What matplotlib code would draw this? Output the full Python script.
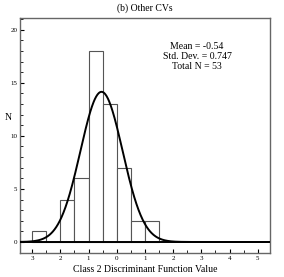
import numpy as np
import matplotlib.pyplot as plt
from matplotlib.ticker import MultipleLocator

# histogram counts, bins of width 0.5
bin_left = [-3.0, -2.5, -2.0, -1.5, -1.0, -0.5, 0.0, 0.5, 1.0]
counts = [1, 0, 4, 6, 18, 13, 7, 2, 2]
bin_width = 0.5

mean = -0.54
std = 0.747
total_n = 53

xticks = [-3, -2, -1, 0, 1, 2, 3, 4, 5]
xtick_labels = ['3', '2', '1', '0', '1', '2', '3', '4', '5']
yticks = [0, 5, 10, 15, 20]

plt.rcParams['font.family'] = ['Liberation Serif', 'DejaVu Serif']

fig = plt.figure(figsize=(2.84, 2.77), dpi=100)
ax = fig.add_axes([0.0704, 0.0866, 0.880, 0.848])

ax.bar(bin_left, counts, width=bin_width, align='edge', facecolor='white',
       edgecolor='#555555', linewidth=0.8, zorder=2)

xs = np.linspace(-3.45, 5.45, 600)
pdf = total_n * bin_width / (std * np.sqrt(2 * np.pi)) * np.exp(-0.5 * ((xs - mean) / std) ** 2)
ax.plot(xs, pdf, color='black', linewidth=1.4, zorder=3)
ax.axhline(0, color='black', linewidth=1.4, zorder=3)

ax.set_xlim(-3.43, 5.43)
ax.set_ylim(-1.04, 21.1)

ax.set_xticks(xticks)
ax.set_xticklabels(xtick_labels)
ax.set_yticks(yticks)
ax.xaxis.set_minor_locator(MultipleLocator(0.5))
ax.yaxis.set_minor_locator(MultipleLocator(1))
ax.tick_params(which='both', direction='in', labelsize=5, pad=2, color='black')
ax.tick_params(which='major', length=3, width=0.8)
ax.tick_params(which='minor', length=2, width=0.6)
ax.tick_params(axis='x', which='both', top=False)
ax.tick_params(axis='y', which='both', right=False)

for s in ax.spines.values():
    s.set_color('#666666')
    s.set_linewidth(1.0)

ax.set_title('(b) Other CVs', fontsize=7, pad=5)
ax.set_xlabel('Class 2 Discriminant Function Value', fontsize=7, labelpad=3)
fig.text(8 / 284, 1 - 117 / 277, 'N', fontsize=7, ha='center', va='center')

ax.text(2.85, 17.5, 'Mean = -0.54\nStd. Dev. = 0.747\nTotal N = 53',
        fontsize=7, ha='center', va='center', linespacing=1.15)

fig.savefig('out.png', dpi=100)
